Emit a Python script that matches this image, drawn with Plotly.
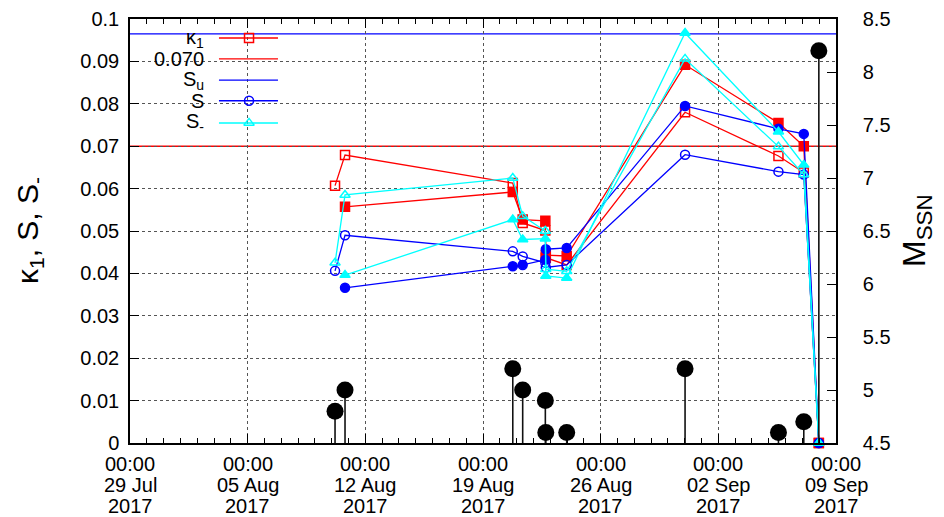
import plotly.graph_objects as go
import pandas as pd

# ---------------- data ----------------
quake_time = ["2017-08-10 04:45", "2017-08-10 19:00", "2017-08-20 18:30", "2017-08-21 08:40",
              "2017-08-22 17:00", "2017-08-22 17:40", "2017-08-23 23:30", "2017-08-31 00:30",
              "2017-09-05 13:50", "2017-09-07 02:00", "2017-09-07 23:30"]
quake_mag = [4.8, 5.0, 5.2, 5.0, 4.9, 4.6, 4.6, 5.2, 4.6, 4.7, 8.2]

kappa1_open = [0.0607, 0.0679, 0.0613, 0.0519, 0.0501, 0.0437, 0.0420, 0.0780, 0.0677, 0.0638, 0.0]
kappa1_fill = [None, 0.0557, 0.0592, 0.0527, 0.0524, 0.0443, 0.0441, 0.0892, 0.0755, 0.0700, 0.0]
S_open = [0.0406, 0.0490, 0.0452, 0.0440, 0.0425, 0.0414, 0.0420, 0.0680, 0.0640, 0.0633, 0.0]
S_fill = [None, 0.0366, 0.0417, 0.0420, 0.0432, 0.0457, 0.0460, 0.0795, 0.0741, 0.0729, 0.0]
Sm_open = [0.0425, 0.0585, 0.0625, 0.0535, 0.0500, 0.0410, 0.0405, 0.0906, 0.0699, 0.0633, 0.0]
Sm_fill = [None, 0.0396, 0.0527, 0.0480, 0.0482, 0.0394, 0.0389, 0.0967, 0.0734, 0.0656, 0.0]

kappa_threshold = 0.070
S_u = 0.0965

x_start, x_end = "2017-07-29", "2017-09-09"
tick_dates = pd.date_range(x_start, x_end, freq="7D")
m_min, m_max = 4.5, 8.5

legend_labels = ["κ<sub>1</sub>", "0.070", "S<sub>u</sub>", "S", "S<sub>-</sub>"]

# ---------------- styling ----------------
FONT = "Liberation Sans"
RED, BLUE, CYAN = "#ff0000", "#0000ff", "#00ffff"

fig = go.Figure()

series = [
    (kappa1_open, RED, "square-open"),
    (kappa1_fill, RED, "square"),
    (S_open, BLUE, "circle-open"),
    (S_fill, BLUE, "circle"),
    (Sm_open, CYAN, "triangle-up-open"),
    (Sm_fill, CYAN, "triangle-up"),
]
for vals, col, sym in series:
    fig.add_trace(go.Scatter(
        x=quake_time, y=vals, mode="lines+markers",
        line=dict(color=col, width=1.3),
        marker=dict(symbol=sym, size=9, color=col, line=dict(color=col, width=1.5)),
        showlegend=False, cliponaxis=False))

# stems for magnitudes (right axis)
stem_x, stem_y = [], []
for t, m in zip(quake_time, quake_mag):
    stem_x += [t, t, None]
    stem_y += [m_min, m, None]
fig.add_trace(go.Scatter(x=stem_x, y=stem_y, mode="lines", yaxis="y2",
                         line=dict(color="#111111", width=1.6), showlegend=False))
fig.add_trace(go.Scatter(x=quake_time, y=quake_mag, mode="markers", yaxis="y2",
                         marker=dict(color="black", size=17), showlegend=False, cliponaxis=False))

# ---------------- manual gnuplot-style key (overlay axes) ----------------
rows = [0.955, 0.906, 0.856, 0.807, 0.755]
lx0, lx1, lxm, ltx = 0.126, 0.2096, 0.1686, 0.108
key = [(RED, "square-open"), (RED, None), (BLUE, None), (BLUE, "circle-open"), (CYAN, "triangle-up-open")]
for (col, sym), yy in zip(key, rows):
    fig.add_trace(go.Scatter(x=[lx0, lx1], y=[yy, yy], mode="lines", xaxis="x3", yaxis="y3",
                             line=dict(color=col, width=1.5 if sym else 1.2), showlegend=False,
                             hoverinfo="skip"))
    if sym:
        fig.add_trace(go.Scatter(x=[lxm], y=[yy], mode="markers", xaxis="x3", yaxis="y3",
                                 marker=dict(symbol=sym, size=9, color=col, line=dict(color=col, width=1.5)),
                                 showlegend=False, hoverinfo="skip"))

annotations = []
for lab, yy in zip(legend_labels, rows):
    annotations.append(dict(text=lab, xref="paper", yref="paper", x=ltx, y=yy,
                            xanchor="right", yanchor="middle", showarrow=False,
                            font=dict(family=FONT, size=20, color="black")))

# date tick labels (three lines, gnuplot spacing)
for d in tick_dates:
    for txt, sh in [(d.strftime("%H:%M"), -21), (d.strftime("%d %b"), -42), (d.strftime("%Y"), -63)]:
        annotations.append(dict(text=txt, xref="x", yref="paper", x=d, y=0, yshift=sh,
                                xanchor="center", yanchor="middle", showarrow=False,
                                font=dict(family=FONT, size=20, color="black")))

annotations.append(dict(text="κ<sub>1</sub>, S, S<sub>-</sub>", xref="paper", yref="paper",
                        x=0, y=0.5, xshift=-101, textangle=-90, showarrow=False,
                        xanchor="center", yanchor="middle",
                        font=dict(family=FONT, size=30, color="black")))
annotations.append(dict(text="M<sub>SSN</sub>", xref="paper", yref="paper",
                        x=1, y=0.5, xshift=80, textangle=-90, showarrow=False,
                        xanchor="center", yanchor="middle",
                        font=dict(family=FONT, size=32, color="black")))

shapes = [
    dict(type="rect", xref="paper", yref="paper", x0=0.007, x1=0.224, y0=0.731, y1=0.993,
         fillcolor="white", line=dict(width=0), layer="between"),
    dict(type="line", xref="paper", yref="y", x0=0, x1=1, y0=kappa_threshold, y1=kappa_threshold,
         line=dict(color=RED, width=1.5), layer="between"),
    dict(type="line", xref="paper", yref="y", x0=0, x1=1, y0=S_u, y1=S_u,
         line=dict(color=BLUE, width=1.3), layer="between"),
]

fig.update_layout(
    width=928, height=517,
    margin=dict(l=122, r=100, t=11, b=82, autoexpand=False),
    paper_bgcolor="white", plot_bgcolor="white",
    font=dict(family=FONT, size=20, color="black"),
    showlegend=False,
    annotations=annotations, shapes=shapes,
    xaxis=dict(type="date", range=[x_start, x_end], tickvals=list(tick_dates), automargin=False,
               showticklabels=False, ticks="inside", ticklen=9, tickwidth=1.2, tickcolor="black",
               showline=True, linecolor="black", linewidth=1.5, mirror="ticks",
               showgrid=True, gridcolor="#555555", griddash="dot", gridwidth=1, zeroline=False,
               minor=dict(dtick=86400000, tick0=x_start, ticks="inside", ticklen=5,
                          tickcolor="black", showgrid=False)),
    yaxis=dict(range=[0, 0.1], dtick=0.01, ticks="inside", ticklen=9, tickwidth=1.2, automargin=False,
               tickcolor="black", showline=True, linecolor="black", linewidth=1.5,
               showgrid=True, gridcolor="#555555", griddash="dot", gridwidth=1, zeroline=False,
               tickfont=dict(size=20, color="black"), ticklabelstandoff=5),
    yaxis2=dict(range=[m_min, m_max], dtick=0.5, overlaying="y", side="right", automargin=False,
                ticks="inside", ticklen=9, tickwidth=1.2, tickcolor="black",
                showline=True, linecolor="black", linewidth=1.5, showgrid=False, zeroline=False,
                tickfont=dict(size=20, color="black"), ticklabelstandoff=21),
    xaxis3=dict(overlaying="x", range=[0, 1], visible=False, automargin=False),
    yaxis3=dict(overlaying="y", range=[0, 1], visible=False, automargin=False),
)

fig.write_html("out.html")
